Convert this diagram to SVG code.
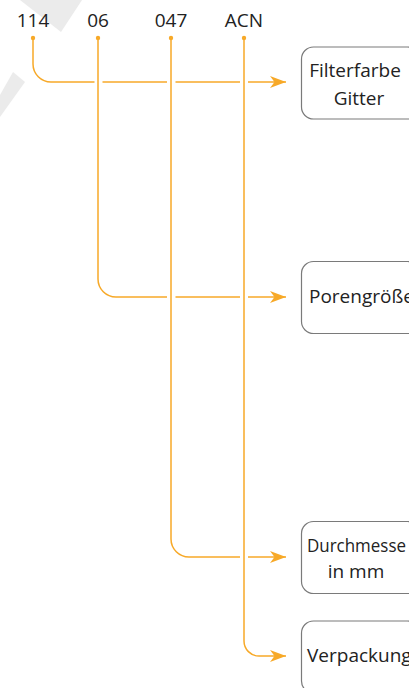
<svg xmlns="http://www.w3.org/2000/svg" width="409" height="688" viewBox="0 0 409 688">
  <style>
    .lbl { font-family: "Open Sans", "Noto Sans", sans-serif; font-size: 19px; fill: #222222; }
    .box { fill: #ffffff; stroke: #7a7a7a; stroke-width: 1.2; }
    .wire { fill: none; stroke: #f7a928; stroke-width: 1.5; }
    .dot { fill: #f7a928; }
    .mark { fill: #ebebeb; }
  </style>
  <defs>
    <marker id="arrow" viewBox="0 0 16 12" refX="16" refY="6" markerWidth="16" markerHeight="12" markerUnits="userSpaceOnUse" orient="auto">
      <path d="M0,0 L16,6 L0,12 L4.5,6 Z" fill="#f7a928"/>
    </marker>
  </defs>

  <!-- faint background marks -->
  <polygon class="mark" points="20,0 82,0 61,32"/>
  <polygon class="mark" points="0,95 13,72 25,82 0,117"/>

  <!-- code segments -->
  <g id="codes">
    <text class="lbl" x="33" y="26.5" text-anchor="middle">114</text>
    <text class="lbl" x="98" y="26.5" text-anchor="middle">06</text>
    <text class="lbl" x="171" y="26.5" text-anchor="middle">047</text>
    <text class="lbl" x="244" y="26.5" text-anchor="middle">ACN</text>
  </g>

  <!-- connectors -->
  <g id="connectors">
    <circle class="dot" cx="33" cy="38" r="2.2"/>
    <circle class="dot" cx="98" cy="38" r="2.2"/>
    <circle class="dot" cx="171" cy="38" r="2.2"/>
    <circle class="dot" cx="244" cy="38" r="2.2"/>

    <!-- 114 -> Filterfarbe -->
    <path class="wire" d="M33,38 V64 A18,18 0 0 0 51,82 H94.5"/>
    <path class="wire" d="M102.5,82 H167"/>
    <path class="wire" d="M175.5,82 H240"/>
    <path class="wire" d="M248,82 H286" marker-end="url(#arrow)"/>

    <!-- 06 -> Porengröße -->
    <path class="wire" d="M98,38 V279 A18,18 0 0 0 116,297 H167"/>
    <path class="wire" d="M175.5,297 H240"/>
    <path class="wire" d="M248,297 H286" marker-end="url(#arrow)"/>

    <!-- 047 -> Durchmesser -->
    <path class="wire" d="M171,38 V539 A18,18 0 0 0 189,557 H240"/>
    <path class="wire" d="M248,557 H286" marker-end="url(#arrow)"/>

    <!-- ACN -> Verpackung -->
    <path class="wire" d="M244,38 V641 A15,15 0 0 0 259,656 H286" marker-end="url(#arrow)"/>
  </g>

  <!-- target boxes -->
  <g id="filterfarbe">
    <rect class="box" x="301.5" y="47" width="118" height="72" rx="12"/>
    <text class="lbl" x="355" y="76.7" text-anchor="middle">Filterfarbe</text>
    <text class="lbl" x="359" y="105" text-anchor="middle">Gitter</text>
  </g>
  <g id="porengroesse">
    <rect class="box" x="301.5" y="261.5" width="118" height="72" rx="12"/>
    <text class="lbl" x="309" y="303">Porengröße</text>
  </g>
  <g id="durchmesser">
    <rect class="box" x="301.5" y="521.5" width="118" height="72" rx="12"/>
    <text class="lbl" x="307" y="551.7" textLength="99" lengthAdjust="spacingAndGlyphs">Durchmesse</text>
    <text class="lbl" x="356" y="578" text-anchor="middle">in mm</text>
  </g>
  <g id="verpackung">
    <rect class="box" x="301.5" y="621" width="118" height="72" rx="12"/>
    <text class="lbl" x="307" y="661.7">Verpackung</text>
  </g>
</svg>
